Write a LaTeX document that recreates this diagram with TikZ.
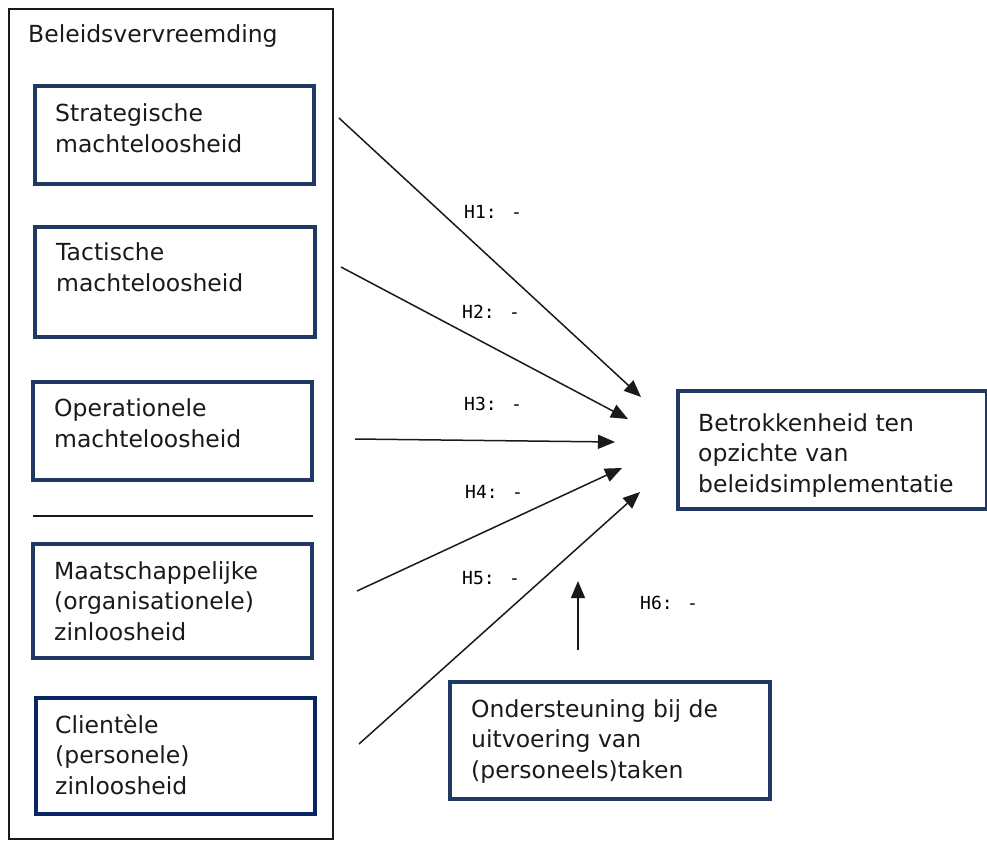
\documentclass[tikz,border=0pt]{standalone}
\usepackage{fontspec}
\setmainfont{DejaVu Sans}
\newfontfamily\labelmono{DejaVu Sans Mono}
\usetikzlibrary{arrows.meta}
\definecolor{navyA}{HTML}{1F3864}
\definecolor{navyB}{HTML}{0B2466}
\definecolor{ink}{HTML}{1A1A1A}
\begin{document}
\begin{tikzpicture}[x=1pt,y=-1pt,
  boxA/.style={draw=navyA, line width=4.5pt},
  boxB/.style={draw=navyB, line width=4.5pt},
  frame/.style={draw=ink, line width=1.5pt},
  txt/.style={anchor=base west, align=left, inner sep=0pt, text=ink,
    font=\fontsize{23.5}{30.5}\selectfont},
  hyp/.style={anchor=west, inner sep=0pt, text=black,
    font=\labelmono\fontsize{18}{20}\selectfont},
  conn/.style={draw=ink, line width=1.5pt, -{Triangle[length=17pt,width=14pt]}}
]
\useasboundingbox (0,0) rectangle (987,841);

% outer frame and separator
\node[frame, anchor=north west, minimum width=324pt, minimum height=830pt, inner sep=0pt] (outer) at (8,8) {};
\coordinate (sepL) at (33,516);
\coordinate (sepR) at (313,516);
\draw[frame] (sepL) -- (sepR);

\node[txt] (title) at (28,42) {Beleidsvervreemding};

% left boxes (text nodes placed by the baseline of their last line)
\node[boxA, anchor=north west, minimum width=279pt, minimum height=98pt, inner sep=0pt] (b1) at (32.5,83.5) {};
\node[txt] (t1) at (55,152) {Strategische\\machteloosheid};

\node[boxA, anchor=north west, minimum width=280pt, minimum height=110pt, inner sep=0pt] (b2) at (32.5,224.5) {};
\node[txt] (t2) at (56,291) {Tactische\\machteloosheid};

\node[boxA, anchor=north west, minimum width=279pt, minimum height=98pt, inner sep=0pt] (b3) at (30.5,379.5) {};
\node[txt] (t3) at (54,447) {Operationele\\machteloosheid};

\node[boxA, anchor=north west, minimum width=279pt, minimum height=114pt, inner sep=0pt] (b4) at (30.5,541.5) {};
\node[txt] (t4) at (54,640) {Maatschappelijke\\(organisationele)\\zinloosheid};

\node[boxB, anchor=north west, minimum width=279pt, minimum height=116pt, inner sep=0pt] (b5) at (33.5,695.5) {};
\node[txt] (t5) at (55,794) {Clientèle\\(personele)\\zinloosheid};

% right box
\node[boxA, anchor=north west, minimum width=309pt, minimum height=118pt, inner sep=0pt] (dep) at (675.5,388.5) {};
\node[txt] (tdep) at (698,492) {Betrokkenheid ten\\opzichte van\\beleidsimplementatie};

% bottom box
\node[boxA, anchor=north west, minimum width=320pt, minimum height=117pt, inner sep=0pt] (mod) at (447.5,679.5) {};
\node[txt] (tmod) at (471,778) {Ondersteuning bij de\\uitvoering van\\(personeels)taken};

% connector end points
\coordinate (s1) at (339,118);  \coordinate (e1) at (641,397);
\coordinate (s2) at (341,267);  \coordinate (e2) at (628,419);
\coordinate (s3) at (355,439);  \coordinate (e3) at (615,442);
\coordinate (s4) at (357,591);  \coordinate (e4) at (622,468);
\coordinate (s5) at (359,744);  \coordinate (e5) at (640,492);
\coordinate (s6) at (578,650);  \coordinate (e6) at (578,581);

\draw[conn] (s1) -- (e1);
\draw[conn] (s2) -- (e2);
\draw[conn] (s3) -- (e3);
\draw[conn] (s4) -- (e4);
\draw[conn] (s5) -- (e5);
\draw[conn] (s6) -- (e6);

% hypothesis labels
\node[hyp] (h1) at (464,212) {H1: -};
\node[hyp] (h2) at (462,312) {H2: -};
\node[hyp] (h3) at (464,404) {H3: -};
\node[hyp] (h4) at (465,492) {H4: -};
\node[hyp] (h5) at (462,578) {H5: -};
\node[hyp] (h6) at (640,603) {H6: -};
\end{tikzpicture}
\end{document}
